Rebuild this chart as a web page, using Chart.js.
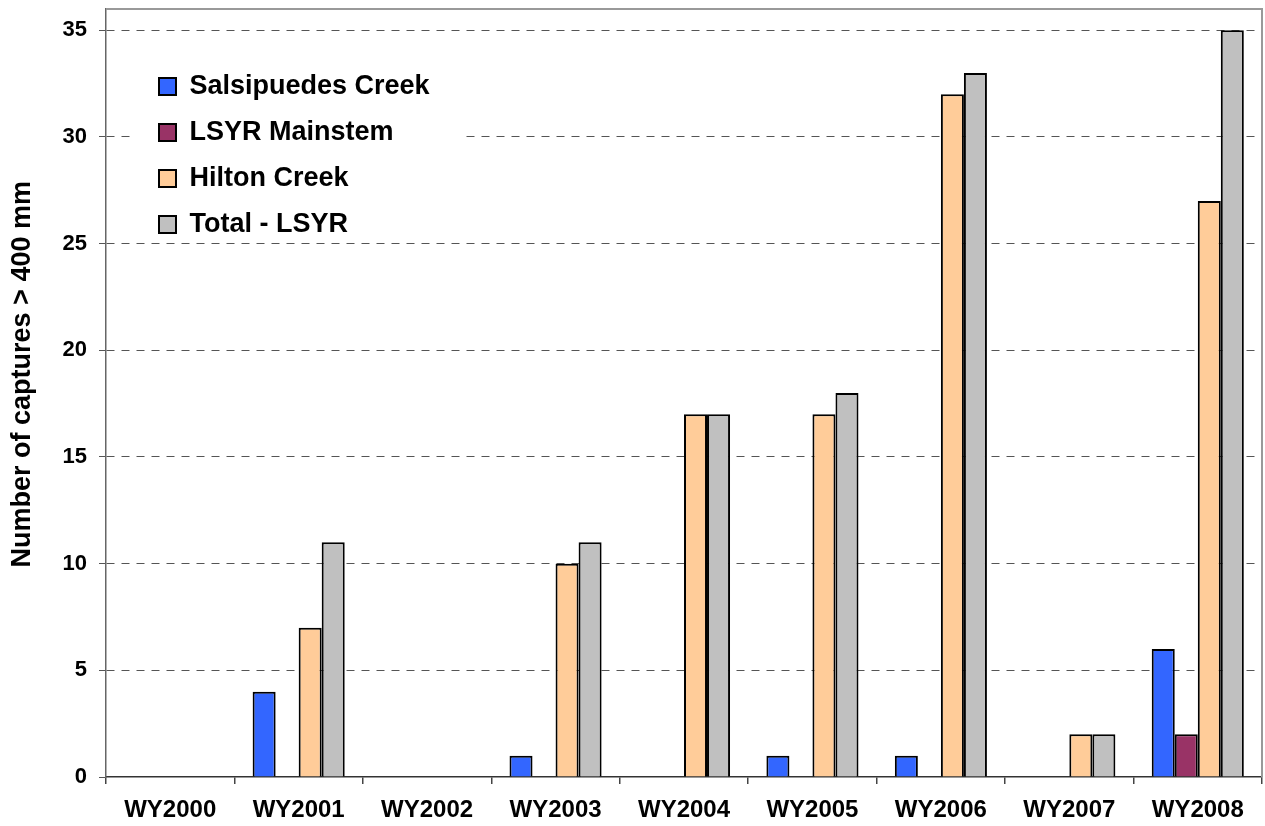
<!DOCTYPE html>
<html lang="en">
<head>
  <meta charset="UTF-8" />
  <title>Captures > 400 mm</title>
  <script src="https://cdn.jsdelivr.net/npm/chart.js"></script>
  <style>
    body { margin: 0; background: #fff; }
    #wrap { width: 1265px; height: 826px; position: relative; }
  </style>
</head>
<body>
  <div id="wrap"><canvas id="chart"></canvas></div>

  <script>
    const years = ['WY2000', 'WY2001', 'WY2002', 'WY2003', 'WY2004', 'WY2005', 'WY2006', 'WY2007', 'WY2008'];
    const salsipuedes = [0, 4, 0, 1, 0, 1, 1, 0, 6];
    const mainstem = [0, 0, 0, 0, 0, 0, 0, 0, 2];
    const hilton = [0, 7, 0, 10, 17, 17, 32, 2, 27];
    const totalLsyr = [0, 11, 0, 11, 17, 18, 33, 2, 35];
    const yTickValues = [0, 5, 10, 15, 20, 25, 30, 35];

    const font = "'Liberation Sans', Arial, sans-serif";
    Chart.defaults.font.family = font;
    Chart.defaults.color = '#000';

    // legend sits inside the plot, on a white box over the grid
    const legendBox = {
      id: 'legendBox',
      afterLayout(chart) {
        const lg = chart.legend;
        lg.left = chart.chartArea.left + 34;
        lg.top = chart.chartArea.top + 45;
        if (!lg._patched) {
          const orig = lg.draw;
          lg.draw = function () {
            const c = this.ctx;
            c.save();
            c.fillStyle = '#fff';
            c.fillRect(this.left - 10, this.top - 14, 330, 194);
            c.restore();
            orig.call(this);
          };
          lg._patched = true;
        }
      }
    };

    // gray frame on top and right of the plot
    const frame = {
      id: 'frame',
      beforeDatasetsDraw(chart) {
        const { ctx, chartArea: a } = chart;
        ctx.save();
        ctx.strokeStyle = '#999';
        ctx.lineWidth = 2;
        ctx.beginPath();
        ctx.moveTo(a.left, a.top);
        ctx.lineTo(a.right, a.top);
        ctx.lineTo(a.right, a.bottom);
        ctx.stroke();
        ctx.restore();
      }
    };

    const bar = (label, data, color) => ({
      label, data,
      backgroundColor: color,
      borderColor: '#000',
      borderWidth: 2,
      categoryPercentage: 0.717,
      barPercentage: 1
    });

    new Chart(document.getElementById('chart'), {
      type: 'bar',
      data: {
        labels: years,
        datasets: [
          bar('Salsipuedes Creek', salsipuedes, '#3366FF'),
          bar('LSYR Mainstem', mainstem, '#993366'),
          bar('Hilton Creek', hilton, '#FFCC99'),
          bar('Total - LSYR', totalLsyr, '#C0C0C0')
        ]
      },
      options: {
        responsive: true,
        maintainAspectRatio: false,
        animation: false,
        layout: { padding: { top: 9, right: 3, left: 0, bottom: 0 } },
        plugins: {
          legend: {
            position: 'chartArea',
            align: 'start',
            labels: {
              font: { size: 27, weight: 'bold' },
              color: '#000',
              boxWidth: 17,
              boxHeight: 17,
              padding: 19
            }
          },
          tooltip: { enabled: false }
        },
        scales: {
          x: {
            offset: true,
            grid: { drawOnChartArea: false, drawTicks: true, tickLength: 7, color: '#444', lineWidth: 1.5, offset: true },
            border: { color: '#333', width: 1.5 },
            ticks: { font: { size: 24, weight: 'bold' }, color: '#000', padding: 12, maxRotation: 0, autoSkip: false },
            afterFit: s => { s.height = 49; s.paddingLeft = 0; s.paddingRight = 0; }
          },
          y: {
            min: 0,
            max: 36,
            afterBuildTicks: s => { s.ticks = yTickValues.map(v => ({ value: v })); },
            grid: {
              color: c => (c.tick && c.tick.value === 0 ? 'rgba(0,0,0,0)' : '#555'),
              tickColor: '#555',
              tickLength: 7,
              lineWidth: 1
            },
            border: { color: '#666', width: 1.5, dash: [8, 7] },
            ticks: { font: { size: 22, weight: 'bold' }, color: '#000', padding: 12 },
            title: {
              display: true,
              text: '     Number of captures > 400 mm',
              font: { size: 27, weight: 'bold' },
              color: '#000',
              padding: { top: 6, bottom: 0 }
            },
            afterFit: s => { s.width = 106; s.paddingTop = 0; s.paddingBottom = 0; }
          }
        }
      },
      plugins: [legendBox, frame]
    });
  </script>
</body>
</html>
